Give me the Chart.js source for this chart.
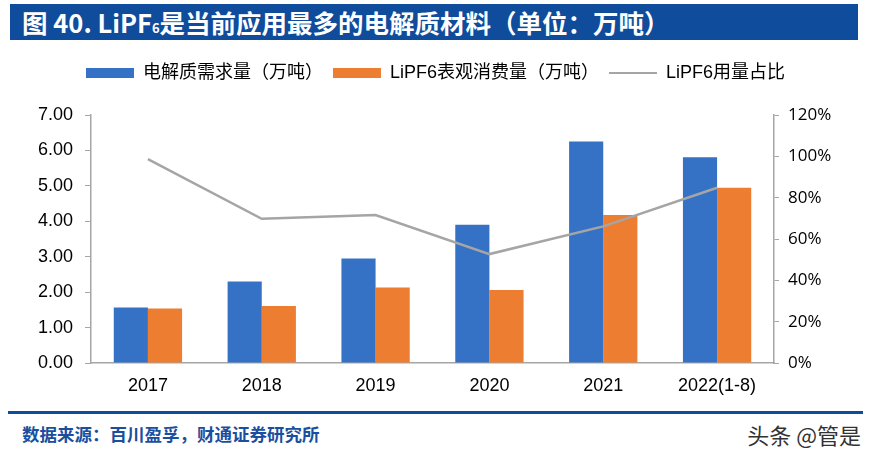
<!DOCTYPE html>
<html>
<head>
<meta charset="utf-8">
<script src="https://cdn.jsdelivr.net/npm/chart.js@4.4.0/dist/chart.umd.min.js"></script>
<style>
body { margin: 0; background: #fff; width: 871px; height: 454px; overflow: hidden; position: relative; font-family: "Noto Sans CJK SC", sans-serif; }
#title { position: absolute; left: 10px; top: 4px; width: 848px; height: 36px; background: #0f4c9b; color: #fff; font-size: 25.5px; font-weight: bold; line-height: 36px; padding-left: 12px; box-sizing: border-box; white-space: nowrap; }
#title .sub { font-size: 13px; }
#wrap { position: absolute; left: 0; top: 54px; width: 871px; height: 349px; }
#rule { position: absolute; left: 8px; top: 411px; width: 855px; height: 3px; background: #0f4c9b; }
#source { position: absolute; left: 22px; top: 421px; font-size: 17.5px; font-weight: bold; color: #1a4fa0; white-space: nowrap; }
#mark { position: absolute; right: 10px; top: 418px; font-size: 22px; color: #333; white-space: nowrap; }
</style>
</head>
<body>
<div id="title">图 40. LiPF<span class="sub">6</span>是当前应用最多的电解质材料（单位：万吨）</div>
<div id="wrap"><canvas id="chartLipf6"></canvas></div>
<div id="rule"></div>
<div id="source">数据来源：百川盈孚，财通证券研究所</div>
<div id="mark">头条 @管是</div>
<script>
// 年份
var years = ['2017', '2018', '2019', '2020', '2021', '2022(1-8)'];
// 电解质需求量（万吨）
var electrolyte_demand = [1.57, 2.30, 2.95, 3.90, 6.25, 5.81];
// LiPF6表观消费量（万吨）
var lipf6_consumption = [1.54, 1.61, 2.13, 2.06, 4.18, 4.95];
// LiPF6用量占比
var lipf6_share = [0.987, 0.698, 0.716, 0.527, 0.661, 0.848];

var axis_color = '#a6a6a6';
var latin_font = '"Liberation Sans", "Noto Sans CJK SC", sans-serif';

// 凡例の高さを固定して，グラフ領域の上端を合わせる
var legendHeight = {
    id: 'legendHeight',
    beforeInit: function (chart) {
        var fit = chart.legend.fit;
        chart.legend.fit = function () {
            fit.bind(chart.legend)();
            this.height = 61;
        };
    }
};

var ctx = document.getElementById('chartLipf6').getContext('2d');

var chart = new Chart(ctx, {
    type: 'bar',
    data: {
        labels: years,
        datasets: [{
            label: '电解质需求量（万吨）',
            data: electrolyte_demand,
            backgroundColor: '#3572c6',
            pointStyle: 'rect',
            yAxisID: 'y',
            order: 1
        }, {
            label: 'LiPF6表观消费量（万吨）',
            data: lipf6_consumption,
            backgroundColor: '#ed7d31',
            pointStyle: 'rect',
            yAxisID: 'y',
            order: 1
        }, {
            type: 'line',
            label: 'LiPF6用量占比',
            data: lipf6_share,
            borderColor: '#a5a5a5',
            backgroundColor: '#a5a5a5',
            borderWidth: 2.5,
            pointRadius: 0,
            pointHoverRadius: 0,
            pointStyle: 'line',
            pointBorderWidth: 2,
            tension: 0,
            yAxisID: 'y1',
            order: -1
        }]
    },
    options: {
        responsive: true,
        maintainAspectRatio: false,
        animation: false,
        layout: { padding: 0 },
        datasets: {
            bar: { categoryPercentage: 0.6, barPercentage: 1.0 }
        },
        plugins: {
            tooltip: { enabled: false },
            legend: {
                position: 'top',
                labels: {
                    usePointStyle: true,
                    pointStyleWidth: 48,
                    boxHeight: 10,
                    padding: 10,
                    color: '#000',
                    font: { size: 18, family: latin_font },
                    sort: function (a, b) { return a.datasetIndex - b.datasetIndex; }
                }
            }
        },
        scales: {
            x: {
                grid: { display: false, drawTicks: false },
                border: { display: true, color: axis_color, width: 1.5 },
                ticks: { color: '#000', padding: 12, font: { size: 18, family: latin_font } },
                afterFit: function (scale) { scale.height = 40; }
            },
            y: {
                position: 'left',
                min: 0,
                max: 7,
                ticks: {
                    stepSize: 1,
                    color: '#000',
                    padding: 12,
                    font: { size: 18, family: latin_font },
                    callback: function (v) { return v.toFixed(2); }
                },
                grid: { drawOnChartArea: false, drawTicks: true, tickLength: 6, color: axis_color },
                border: { display: true, color: axis_color, width: 1.5 },
                afterFit: function (scale) { scale.width = 91; }
            },
            y1: {
                position: 'right',
                min: 0,
                max: 1.2,
                ticks: {
                    stepSize: 0.2,
                    color: '#000',
                    padding: 9,
                    font: { size: 17, family: '"Open Sans", sans-serif' },
                    callback: function (v) { return Math.round(v * 100) + '%'; }
                },
                grid: { drawOnChartArea: false, drawTicks: true, tickLength: 5, color: axis_color },
                border: { display: true, color: axis_color, width: 1.5 },
                afterFit: function (scale) { scale.width = 97; }
            }
        }
    },
    plugins: [legendHeight]
});
</script>
</body>
</html>
